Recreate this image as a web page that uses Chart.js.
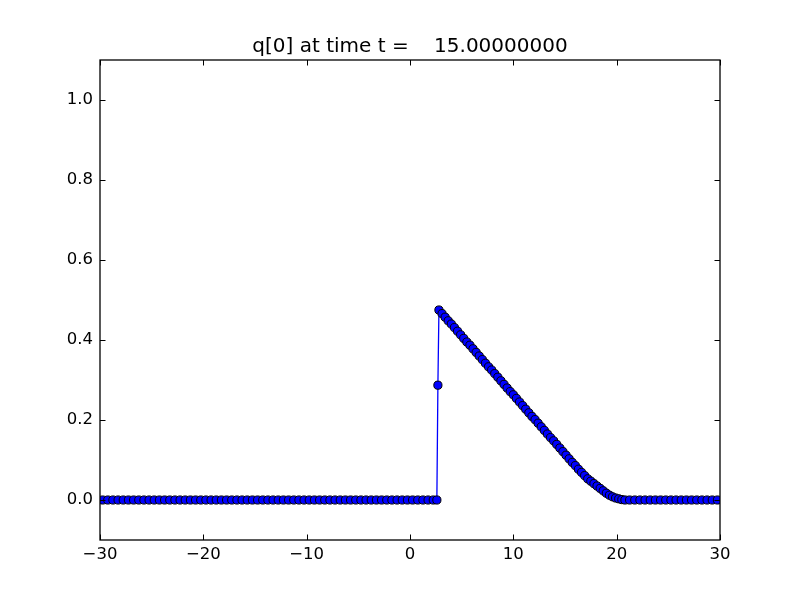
<!DOCTYPE html>
<html>
<head>
<meta charset="utf-8">
<script src="https://cdn.jsdelivr.net/npm/chart.js@4"></script>
<style>
  html, body { margin: 0; padding: 0; background: #fff; }
  canvas { display: block; }
</style>
</head>
<body>
<canvas id="chart" width="800" height="600"></canvas>
<script>
const titleText = "q[0] at time t =    15.00000000";

const xTicks = [-30, -20, -10, 0, 10, 20, 30];
const yTicks = [0.0, 0.2, 0.4, 0.6, 0.8, 1.0];

// flat part left of the shock
const leftX = [
  -29.75, -29.25, -28.75, -28.25, -27.75, -27.25, -26.75, -26.25, -25.75, -25.25,
  -24.75, -24.25, -23.75, -23.25, -22.75, -22.25, -21.75, -21.25, -20.75, -20.25,
  -19.75, -19.25, -18.75, -18.25, -17.75, -17.25, -16.75, -16.25, -15.75, -15.25,
  -14.75, -14.25, -13.75, -13.25, -12.75, -12.25, -11.75, -11.25, -10.75, -10.25,
  -9.75, -9.25, -8.75, -8.25, -7.75, -7.25, -6.75, -6.25, -5.75, -5.25,
  -4.75, -4.25, -3.75, -3.25, -2.75, -2.25, -1.75, -1.25, -0.75, -0.25,
  0.25, 0.75, 1.25, 1.75, 2.25,
];
const leftQ = [
  0, 0, 0, 0, 0, 0, 0, 0, 0, 0,
  0, 0, 0, 0, 0, 0, 0, 0, 0, 0,
  0, 0, 0, 0, 0, 0, 0, 0, 0, 0,
  0, 0, 0, 0, 0, 0, 0, 0, 0, 0,
  0, 0, 0, 0, 0, 0, 0, 0, 0, 0,
  0, 0, 0, 0, 0, 0, 0, 0, 0, 0,
  0, 0, 0, 0, 0,
];

// the jump
const shockX = [2.6, 2.7];
const shockQ = [0.0, 0.287];

// decreasing ramp after the jump
const rampX = [
  2.8, 3.1, 3.4, 3.7, 4.0, 4.3, 4.6, 4.9, 5.2, 5.5,
  5.8, 6.1, 6.4, 6.7, 7.0, 7.3, 7.6, 7.9, 8.2, 8.5,
  8.8, 9.1, 9.4, 9.7, 10.0, 10.3, 10.6, 10.9, 11.2, 11.5,
  11.8, 12.1, 12.4, 12.7, 13.0, 13.3, 13.6, 13.9, 14.2, 14.5,
  14.8, 15.1, 15.4, 15.7, 16.0, 16.3, 16.6, 16.9, 17.2, 17.5,
  17.8, 18.1, 18.4, 18.7, 19.0, 19.3, 19.6, 19.9, 20.2, 20.5,
  20.8,
];
const rampQ = [
  0.475, 0.466, 0.457, 0.448, 0.440, 0.431, 0.422, 0.413, 0.404, 0.395,
  0.387, 0.378, 0.369, 0.360, 0.351, 0.342, 0.333, 0.325, 0.316, 0.307,
  0.298, 0.289, 0.280, 0.271, 0.263, 0.254, 0.245, 0.236, 0.227, 0.218,
  0.209, 0.201, 0.192, 0.183, 0.174, 0.165, 0.156, 0.148, 0.139, 0.130,
  0.121, 0.112, 0.103, 0.094, 0.086, 0.077, 0.069, 0.061, 0.053, 0.047,
  0.041, 0.035, 0.029, 0.023, 0.017, 0.012, 0.008, 0.005, 0.003, 0.001,
  0.0,
];

// flat part on the right
const rightX = [
  21.25, 21.75, 22.25, 22.75, 23.25, 23.75, 24.25, 24.75, 25.25, 25.75,
  26.25, 26.75, 27.25, 27.75, 28.25, 28.75, 29.25, 29.75,
];
const rightQ = [
  0, 0, 0, 0, 0, 0, 0, 0, 0, 0,
  0, 0, 0, 0, 0, 0, 0, 0,
];

const allX = [...leftX, ...shockX, ...rampX, ...rightX];
const allQ = [...leftQ, ...shockQ, ...rampQ, ...rightQ];
const points = allX.map((x, i) => ({ x, y: allQ[i] }));

const FONT = "'DejaVu Sans', sans-serif";
const AREA = { left: 100, top: 60, right: 720, bottom: 540 };

function fmtX(v) {
  return v < 0 ? "\u2212" + Math.abs(v) : String(v);
}
function fmtY(v) {
  const s = Math.abs(v).toFixed(1);
  return v < -1e-9 ? "\u2212" + s : s;
}

// frame, inward ticks on all four sides, and the title
const framePlugin = {
  id: "frame",
  afterDraw(chart) {
    const { ctx, chartArea: a } = chart;
    const xs = chart.scales.x;
    const ys = chart.scales.y;
    const len = 5.5;
    ctx.save();
    ctx.strokeStyle = "#000";
    ctx.lineWidth = 1;
    ctx.beginPath();
    xTicks.forEach((v) => {
      const px = Math.round(xs.getPixelForValue(v)) + 0.5;
      ctx.moveTo(px, a.bottom);
      ctx.lineTo(px, a.bottom - len);
      ctx.moveTo(px, a.top);
      ctx.lineTo(px, a.top + len);
    });
    yTicks.forEach((v) => {
      const py = Math.round(ys.getPixelForValue(v)) + 0.5;
      ctx.moveTo(a.left, py);
      ctx.lineTo(a.left + len, py);
      ctx.moveTo(a.right, py);
      ctx.lineTo(a.right - len, py);
    });
    ctx.stroke();
    ctx.lineWidth = 1.3;
    ctx.strokeRect(a.left, a.top, a.right - a.left, a.bottom - a.top);

    ctx.fillStyle = "#000";
    ctx.font = `20px ${FONT}`;
    ctx.textAlign = "center";
    ctx.textBaseline = "alphabetic";
    ctx.fillText(titleText, (a.left + a.right) / 2, a.top - 8);
    ctx.restore();
  },
};

new Chart(document.getElementById("chart"), {
  type: "scatter",
  data: {
    datasets: [
      {
        data: points,
        showLine: true,
        borderColor: "#0000ff",
        borderWidth: 1.3,
        pointRadius: 4.1,
        pointBackgroundColor: "#0000ff",
        pointBorderColor: "#000",
        pointBorderWidth: 1,
        tension: 0,
      },
    ],
  },
  options: {
    responsive: false,
    animation: false,
    layout: {
      padding: { left: 0, top: AREA.top, right: 800 - AREA.right, bottom: 0 },
    },
    plugins: {
      legend: { display: false },
      tooltip: { enabled: false },
    },
    scales: {
      x: {
        type: "linear",
        min: -30,
        max: 30,
        grid: { display: false, drawTicks: false },
        border: { display: false },
        afterBuildTicks: (s) => { s.ticks = xTicks.map((value) => ({ value })); },
        afterFit: (s) => { s.height = 600 - AREA.bottom; },
        ticks: {
          color: "#000",
          font: { family: FONT, size: 16.5 },
          padding: 5,
          maxRotation: 0,
          callback: (v) => fmtX(v),
        },
      },
      y: {
        type: "linear",
        min: -0.1,
        max: 1.1,
        grid: { display: false, drawTicks: false },
        border: { display: false },
        afterBuildTicks: (s) => { s.ticks = yTicks.map((value) => ({ value })); },
        afterFit: (s) => { s.width = AREA.left; },
        ticks: {
          color: "#000",
          font: { family: FONT, size: 16.5 },
          padding: 7,
          callback: (v) => fmtY(v),
        },
      },
    },
  },
  plugins: [framePlugin],
});
</script>
</body>
</html>
